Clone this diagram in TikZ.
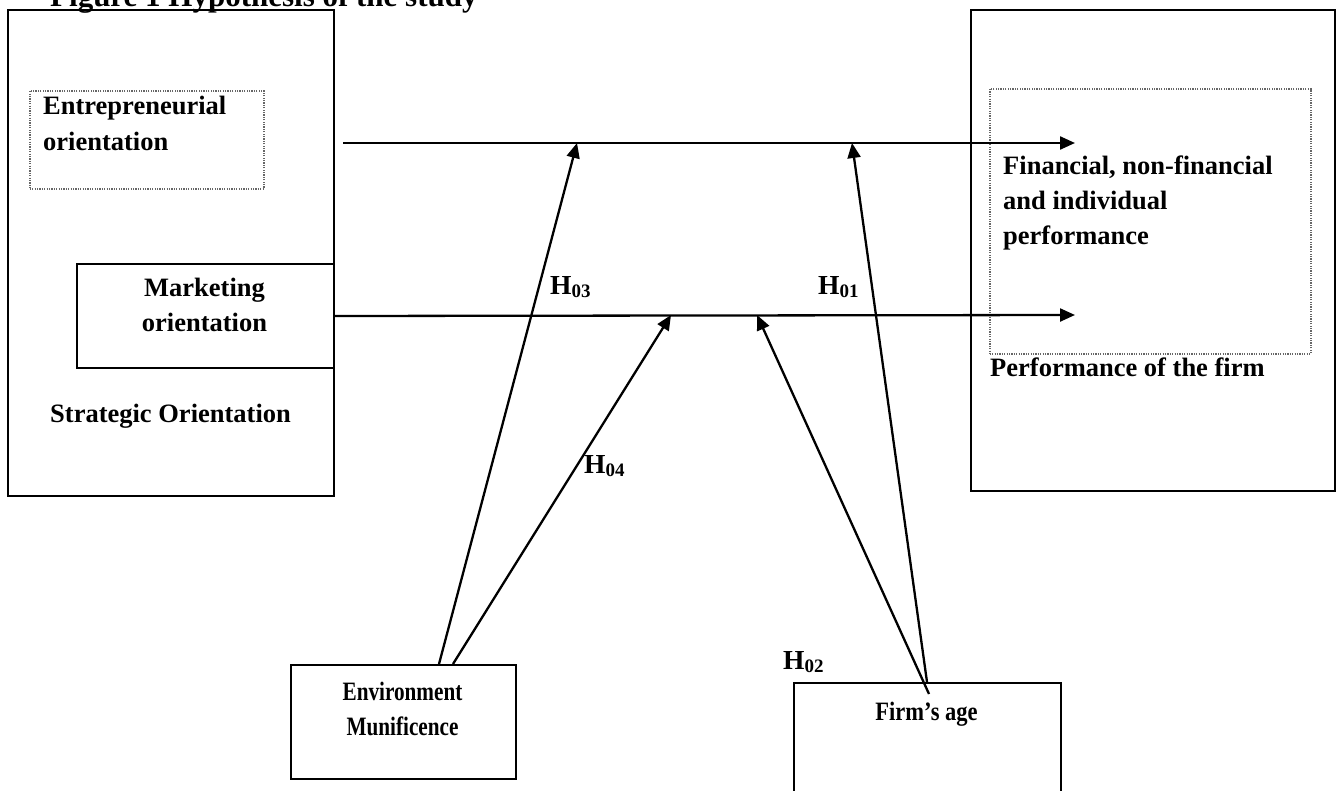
\documentclass[tikz,border=0pt]{standalone}
\usepackage{fontspec}
\setmainfont{Liberation Serif}
\usetikzlibrary{arrows.meta}
\begin{document}
\begin{tikzpicture}[x=1pt,y=-1pt,
  box/.style={draw, line width=2pt, inner sep=0pt, anchor=north west},
  dotbox/.style={draw=black!60, dash pattern=on 1.2pt off 1.2pt, line width=1.6pt, inner sep=0pt, anchor=north west},
  lbl/.style={font=\fontsize{26.5}{36}\selectfont\bfseries, inner sep=0pt},
  nlbl/.style={lbl, anchor=base},
  hlbl/.style={font=\fontsize{27.5}{36}\selectfont\bfseries, inner sep=0pt, anchor=base west},
  arr/.style={line width=2.3pt, -{Triangle[length=15pt,width=13pt]}},
]
\useasboundingbox (0,0) rectangle (1336,791);
% title (partly cut off at the top)
\node[font=\fontsize{31}{36}\selectfont\bfseries, inner sep=0pt, anchor=base west] (title) at (50,7) {Figure 1 Hypothesis of the study};
% left group
\node[box, minimum width=326pt, minimum height=486pt] (so) at (7,9) {};
\node[dotbox, minimum width=234pt, minimum height=98pt] (eo) at (29,90) {};
\node[lbl, anchor=base west] (eo1) at (43,115) {Entrepreneurial};
\node[lbl, anchor=base west] (eo2) at (43,151) {orientation};
\node[box, minimum width=257pt, minimum height=104pt] (mo) at (76,263) {};
\node[nlbl] (mo1) at (204.5,297) {Marketing};
\node[nlbl] (mo2) at (204.5,332) {orientation};
\node[lbl, anchor=base west] (sot) at (50,422) {Strategic Orientation};
% right group
\node[box, minimum width=364pt, minimum height=481pt] (pf) at (970,9) {};
\node[dotbox, minimum width=321pt, minimum height=265pt] (fp) at (989,88) {};
\node[lbl, anchor=base west] (fp1) at (1003,175) {Financial, non-financial};
\node[lbl, anchor=base west] (fp2) at (1003,210) {and individual};
\node[lbl, anchor=base west] (fp3) at (1003,245) {performance};
\node[lbl, anchor=base west] (pft) at (990,377) {Performance of the firm};
% bottom boxes
\node[box, minimum width=225pt, minimum height=114pt] (env) at (290,664) {};
\node[nlbl] (env1) at (402.5,700) {\scalebox{0.8}[1]{Environment}};
\node[nlbl] (env2) at (402.5,735) {\scalebox{0.8}[1]{Munificence}};
\node[box, minimum width=267pt, minimum height=140pt] (age) at (793,682) {};
\node[nlbl] (age1) at (926.5,720) {\scalebox{0.85}[1]{Firm’s age}};
% horizontal arrows
\coordinate (t0) at (343,143);
\coordinate (t1) at (1075,143);
\coordinate (m1) at (1075,315);
\draw[arr] (t0) -- (t1);
\draw[arr] (mo.east) -- (m1);
% moderating arrows
\coordinate (a3) at (577,143);
\coordinate (a4) at (671,315);
\coordinate (a1) at (852,143);
\coordinate (a2) at (757,315);
\draw[arr] ([xshift=35.5pt]env.north) -- (a3);
\draw[arr] ([xshift=49.5pt]env.north) -- (a4);
\draw[arr] ([xshift=-0.5pt]age.north) -- (a1);
\draw[arr] ([xshift=1.5pt,yshift=-12pt]age.north) -- (a2);
% hypothesis labels
\node[hlbl] (h03) at (550,295) {H\raisebox{-3pt}{\fontsize{19}{19}\selectfont 03}};
\node[hlbl] (h01) at (818,295) {H\raisebox{-3pt}{\fontsize{19}{19}\selectfont 01}};
\node[hlbl] (h04) at (584,473) {H\raisebox{-3pt}{\fontsize{19}{19}\selectfont 04}};
\node[hlbl] (h02) at (783,669) {H\raisebox{-3pt}{\fontsize{19}{19}\selectfont 02}};
\end{tikzpicture}
\end{document}
